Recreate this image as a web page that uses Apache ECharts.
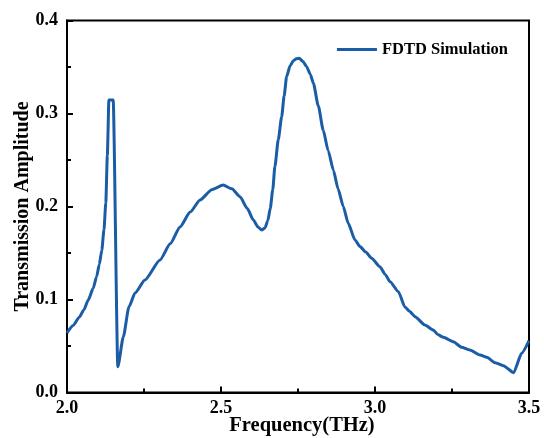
<!DOCTYPE html>
<html>
<head>
<meta charset="utf-8">
<script src="https://cdn.jsdelivr.net/npm/echarts@6/dist/echarts.min.js"></script>
<style>
html,body{margin:0;padding:0;background:#fff;}
#chart{width:544px;height:438px;}
</style>
</head>
<body>
<div id="chart"></div>
<script>
const seriesName = 'FDTD Simulation';
const xAxisName = 'Frequency(THz)';
const yAxisName = 'Transmission Amplitude';
const freq = [2.000,2.020,2.040,2.055,2.069,2.085,2.096,2.105,2.113,2.120,2.126,2.131,2.136,2.150,2.165,2.183,2.201,2.221,2.253,2.302,2.335,2.367,2.400,2.432,2.470,2.507,2.535,2.562,2.585,2.605,2.620,2.632,2.643,2.652,2.660,2.668,2.675,2.686,2.697,2.705,2.713,2.724,2.735,2.745,2.754,2.766,2.778,2.790,2.800,2.816,2.832,2.848,2.865,2.880,2.897,2.913,2.935,2.951,2.970,2.989,3.016,3.033,3.049,3.076,3.097,3.113,3.130,3.162,3.189,3.205,3.222,3.254,3.281,3.308,3.341,3.363,3.390,3.417,3.450,3.476,3.500];
const amp = [0.064,0.072,0.081,0.089,0.0995,0.112,0.1245,0.138,0.153,0.175,0.204,0.255,0.3145,0.3145,0.0278,0.060,0.092,0.107,0.121,0.1425,0.160,0.178,0.194,0.207,0.218,0.223,0.219,0.2105,0.198,0.1855,0.178,0.1747,0.177,0.185,0.198,0.218,0.243,0.272,0.2966,0.319,0.3396,0.351,0.3567,0.359,0.3593,0.356,0.3503,0.342,0.3325,0.308,0.282,0.260,0.239,0.219,0.200,0.182,0.164,0.157,0.151,0.1443,0.1353,0.127,0.119,0.1084,0.092,0.087,0.0815,0.0726,0.0672,0.062,0.0593,0.0546,0.0486,0.0457,0.0403,0.0378,0.032,0.0288,0.0213,0.0421,0.0557];

const font = "'Times New Roman','Liberation Serif',serif";
const lineColor = '#1a5ca6';
const data = freq.map((f, i) => [f, amp[i]]);
const chart = echarts.init(document.getElementById('chart'), null, {renderer: 'canvas'});
chart.setOption({
  animation: false,
  backgroundColor: '#fff',
  grid: {left: 67, right: 15, top: 20.5, bottom: 45.5, show: true, borderColor: '#000', borderWidth: 2,
    outerBoundsMode: 'none', containLabel: false},
  legend: {
    data: [{name: seriesName, icon: 'rect'}], right: 31, top: 36, itemWidth: 40, itemHeight: 3, itemGap: 3,
    textStyle: {fontFamily: font, fontWeight: 'bold', fontSize: 16.5, color: '#000'}
  },
  graphic: [
    {type: 'text', x: 302, y: 426, silent: true,
      style: {text: xAxisName, fontFamily: font, fontWeight: 'bold', fontSize: 20.5, fill: '#000',
        textAlign: 'center', textVerticalAlign: 'middle'}},
    {type: 'text', x: 23, y: 206.5, rotation: Math.PI / 2, silent: true,
      style: {text: yAxisName, fontFamily: font, fontWeight: 'bold', fontSize: 20, fill: '#000',
        textAlign: 'center', textVerticalAlign: 'middle'}}
  ],
  xAxis: {
    type: 'value', min: 2.0, max: 3.5, interval: 0.5,
    axisLine: {show: true, lineStyle: {color: '#000', width: 2}},
    axisTick: {show: true, inside: true, length: 6, lineStyle: {color: '#000', width: 2}},
    minorTick: {show: true, splitNumber: 2, length: 4, lineStyle: {color: '#000', width: 2}},
    splitLine: {show: false},
    axisLabel: {fontFamily: font, fontWeight: 'bold', fontSize: 18, color: '#000', margin: 7,
      formatter: v => v.toFixed(1)}
  },
  yAxis: {
    type: 'value', min: 0, max: 0.4, interval: 0.1,
    axisLine: {show: true, lineStyle: {color: '#000', width: 2}},
    axisTick: {show: true, inside: true, length: 6, lineStyle: {color: '#000', width: 2}},
    minorTick: {show: true, splitNumber: 2, length: 4, lineStyle: {color: '#000', width: 2}},
    splitLine: {show: false},
    axisLabel: {fontFamily: font, fontWeight: 'bold', fontSize: 18, color: '#000', margin: 9,
      formatter: v => v.toFixed(1)}
  },
  series: [{
    name: seriesName, type: 'line', data: data, symbol: 'none', smooth: 0.2, smoothMonotone: 'x',
    lineStyle: {color: lineColor, width: 3}, itemStyle: {color: lineColor}
  }]
});
</script>
</body>
</html>
